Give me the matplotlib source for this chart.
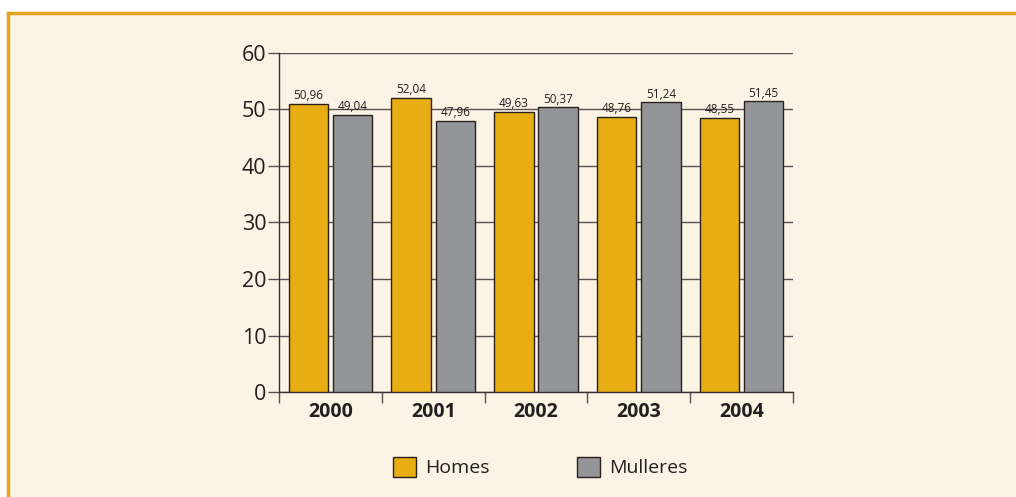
import matplotlib.pyplot as plt
import numpy as np
from matplotlib.patches import Rectangle
from matplotlib.lines import Line2D

years = ['2000', '2001', '2002', '2003', '2004']
homes = [50.96, 52.04, 49.63, 48.76, 48.55]
mulleres = [49.04, 47.96, 50.37, 51.24, 51.45]

bg = '#fbf3e4'
gold = '#e8ad12'
grey = '#939598'
edge = '#2b2220'
txt = '#231f20'

plt.rcParams['font.family'] = ['Open Sans', 'DejaVu Sans']

fig = plt.figure(figsize=(10.16, 4.97), dpi=100)
fig.patch.set_facecolor('white')

# framed background box (orange on top and left)
fig.patches.append(Rectangle((8 / 1016, 0), 1.0, (497 - 13) / 497, transform=fig.transFigure,
                             facecolor=bg, edgecolor='none', zorder=-10))
fig.lines.append(Line2D([8 / 1016, 1.0], [(497 - 13) / 497] * 2, transform=fig.transFigure,
                        color='#e8a31a', lw=2.5, zorder=-5))
fig.lines.append(Line2D([8 / 1016] * 2, [0, (497 - 13) / 497], transform=fig.transFigure,
                        color='#e8a31a', lw=2.5, zorder=-5))

ax = fig.add_axes([279 / 1016, 105 / 497, 514 / 1016, 339 / 497])
ax.set_facecolor(bg)

x = np.arange(len(years))
w = 0.385
off = 0.215
b1 = ax.bar(x - off, homes, w, color=gold, edgecolor=edge, linewidth=1.0, label='Homes', zorder=3)
b2 = ax.bar(x + off, mulleres, w, color=grey, edgecolor=edge, linewidth=1.0, label='Mulleres', zorder=3)

for bars, vals in ((b1, homes), (b2, mulleres)):
    for r, v in zip(bars, vals):
        ax.text(r.get_x() + r.get_width() / 2, v + 0.3, f'{v:.2f}'.replace('.', ','),
                ha='center', va='bottom', fontsize=8.5, color=txt, zorder=4)

ax.set_xlim(-0.5, len(years) - 0.5)
ax.set_ylim(0, 60)
ax.set_yticks(range(0, 61, 10))
ax.tick_params(axis='y', labelsize=15.5, length=8, width=1, color='#5a5050', labelcolor=txt, pad=1)
ax.yaxis.grid(True, color='#5a5050', linewidth=1, zorder=1)

ax.set_xticks(np.arange(-0.5, len(years), 1.0))
ax.set_xticklabels([])
ax.set_xticks(x, minor=True)
ax.set_xticklabels(years, minor=True, fontsize=14, fontweight='bold', color=txt)
ax.tick_params(axis='x', which='major', length=8, width=1, color='#5a5050', direction='out')
ax.tick_params(axis='x', which='minor', length=0, pad=7)

for s in ('top', 'right'):
    ax.spines[s].set_visible(False)
for s in ('left', 'bottom'):
    ax.spines[s].set_color('#3a3030')
    ax.spines[s].set_linewidth(1)

fig.legend(handles=[b1, b2], labels=['Homes', 'Mulleres'], loc='center',
           bbox_to_anchor=(540 / 1016, 1 - 467 / 497), ncol=2, frameon=False,
           fontsize=14, handlelength=1.2, handleheight=1.2, columnspacing=4.5,
           handletextpad=0.45, labelcolor=txt)

fig.savefig('out.png', dpi=100)
